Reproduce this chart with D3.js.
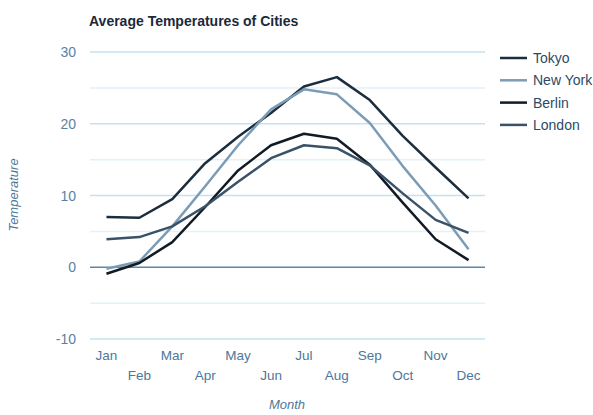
<!DOCTYPE html>
<html><head><meta charset="utf-8">
<script src="https://cdn.jsdelivr.net/npm/d3@7"></script>
<style>body{margin:0;background:#fff;font-family:"Liberation Sans",Arial,sans-serif;}</style>
</head><body><svg id="c" width="593" height="415"></svg>
<script>
const months = ["Jan","Feb","Mar","Apr","May","Jun","Jul","Aug","Sep","Oct","Nov","Dec"];
const seriesNames = ["Tokyo","New York","Berlin","London"];
const tokyo = [7.0,6.9,9.5,14.5,18.2,21.5,25.2,26.5,23.3,18.3,13.9,9.6];
const newYork = [-0.2,0.8,5.7,11.3,17.0,22.0,24.8,24.1,20.1,14.1,8.6,2.5];
const berlin = [-0.9,0.6,3.5,8.4,13.5,17.0,18.6,17.9,14.3,9.0,3.9,1.0];
const london = [3.9,4.2,5.7,8.5,11.9,15.2,17.0,16.6,14.2,10.3,6.6,4.8];
const yTicks = [-10,0,10,20,30];
const yMinor = [-5,5,15,25];
const colors = ["#1c2e3e","#7c9cb6","#101b25","#3a5268"];

const series = [tokyo,newYork,berlin,london];
const svg = d3.select("#c");
const L=90,R=485,T=52,B=339;
const x = d3.scaleBand().domain(months).range([L,R]);
const y = d3.scaleLinear().domain([-10,30]).range([B,T]);

svg.append("g").selectAll("line").data(yMinor).join("line")
 .attr("x1",L).attr("x2",R).attr("y1",d=>y(d)).attr("y2",d=>y(d))
 .attr("stroke","#e3f1f8").attr("stroke-width",1.5);
svg.append("g").selectAll("line").data(yTicks).join("line")
 .attr("x1",L).attr("x2",R).attr("y1",d=>y(d)).attr("y2",d=>y(d))
 .attr("stroke",d=>d===0?"#5e87a6":"#c6e2f0").attr("stroke-width",1.5);

svg.append("g").selectAll("text").data(yTicks).join("text")
 .attr("x",L-14).attr("y",d=>y(d)+5).attr("text-anchor","end")
 .attr("fill","#5883a6").attr("font-size",14).text(d=>d);

svg.append("g").selectAll("text").data(months).join("text")
 .attr("x",d=>x(d)+x.bandwidth()/2).attr("y",(d,i)=>i%2===0?360:380)
 .attr("text-anchor","middle").attr("fill","#4d7799").attr("font-size",13.5).text(d=>d);

const line = d3.line().x((d,i)=>x(months[i])+x.bandwidth()/2).y(d=>y(d));
svg.append("g").selectAll("path").data(series).join("path")
 .attr("d",d=>line(d)).attr("fill","none").attr("stroke",(d,i)=>colors[i])
 .attr("stroke-width",2.5).attr("stroke-linejoin","round");

svg.append("text").attr("x",89).attr("y",26).attr("font-size",14).attr("font-weight","bold")
 .attr("fill","#1a2a3a").text("Average Temperatures of Cities");
svg.append("text").attr("transform","translate(18,195) rotate(-90)").attr("text-anchor","middle")
 .attr("font-style","italic").attr("font-size",13).attr("fill","#4d7799").text("Temperature");
svg.append("text").attr("x",287).attr("y",409).attr("text-anchor","middle")
 .attr("font-style","italic").attr("font-size",13).attr("fill","#4d7799").text("Month");

const lg = svg.append("g").selectAll("g").data(seriesNames).join("g")
 .attr("transform",(d,i)=>`translate(500,${58+i*22.3})`);
lg.append("line").attr("x1",0).attr("x2",27).attr("stroke",(d,i)=>colors[i]).attr("stroke-width",2.5);
lg.append("text").attr("x",33).attr("y",5).attr("font-size",14).attr("fill","#2c4a66").text(d=>d);
</script></body></html>
